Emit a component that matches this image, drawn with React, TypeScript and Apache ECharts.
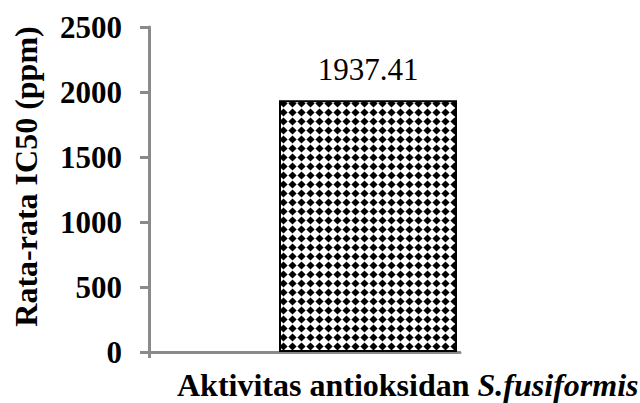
import React, { useEffect, useRef } from "react";
import * as echarts from "echarts";

const categories = ["S.fusiformis"];
const ic50Values = [1937.41];
const yMin = 0;
const yMax = 2500;
const yInterval = 500;

function makePattern(): HTMLCanvasElement {
  const c = document.createElement("canvas");
  const s = 9;
  c.width = s;
  c.height = s;
  const ctx = c.getContext("2d")!;
  ctx.fillStyle = "#ffffff";
  ctx.fillRect(0, 0, s, s);
  ctx.fillStyle = "#000000";
  ctx.beginPath();
  ctx.moveTo(s / 2, 0.4);
  ctx.lineTo(s - 0.4, s / 2);
  ctx.lineTo(s / 2, s - 0.4);
  ctx.lineTo(0.4, s / 2);
  ctx.closePath();
  ctx.fill();
  return c;
}

export default function App() {
  const ref = useRef<HTMLDivElement>(null);
  useEffect(() => {
    if (!ref.current) return;
    const chart = echarts.init(ref.current, undefined, { renderer: "svg" });
    const serif = "'Liberation Serif', 'Times New Roman', serif";
    const axisGray = "#8a8a8a";
    chart.setOption({
      animation: false,
      backgroundColor: "#ffffff",
      title: {
        text: "{b|Aktivitas antioksidan }{i|S.fusiformis}",
        left: 177,
        top: 369,
        padding: 0,
        textStyle: {
          rich: {
            b: { fontFamily: serif, fontWeight: "bold", fontSize: 32, color: "#000" },
            i: { fontFamily: serif, fontWeight: "bold", fontStyle: "italic", fontSize: 32, color: "#000" },
          },
        },
      },
      grid: [
        { left: 149, right: 180, top: 27, bottom: 51 },
        { left: 279, right: 183, top: 27, bottom: 51 },
      ],
      xAxis: [
        {
          type: "value",
          gridIndex: 0,
          min: 0,
          max: 10,
          interval: 10,
          axisLine: { show: true, lineStyle: { color: axisGray, width: 3 } },
          axisTick: { show: true, length: 6, customValues: [0], lineStyle: { color: axisGray, width: 3 } },
          axisLabel: { show: false },
          splitLine: { show: false },
        },
        {
          type: "category",
          gridIndex: 1,
          data: categories,
          show: false,
        },
      ],
      yAxis: [
        {
          type: "value",
          gridIndex: 0,
          min: yMin,
          max: yMax,
          interval: yInterval,
          name: "Rata-rata IC50 (ppm)",
          nameLocation: "middle",
          nameGap: 107,
          nameTextStyle: {
            fontFamily: serif,
            fontWeight: "bold",
            fontSize: 32,
            color: "#000",
            padding: [0, 0, 0, 26],
          },
          axisLine: { show: true, lineStyle: { color: axisGray, width: 3 } },
          axisTick: { show: true, length: 9, lineStyle: { color: axisGray, width: 3 } },
          splitLine: { show: false },
          axisLabel: {
            margin: 27,
            fontFamily: serif,
            fontWeight: "bold",
            fontSize: 31,
            color: "#000",
            formatter: (v: number) => String(v),
          },
        },
        {
          type: "value",
          gridIndex: 1,
          min: yMin,
          max: yMax,
          show: false,
          splitLine: { show: false },
        },
      ],
      series: [
        {
          type: "bar",
          xAxisIndex: 1,
          yAxisIndex: 1,
          data: ic50Values,
          barWidth: "100%",
          itemStyle: {
            color: { image: makePattern(), repeat: "repeat" },
            borderColor: "#000",
            borderWidth: 2,
          },
          label: {
            show: true,
            position: "top",
            distance: 15,
            fontFamily: serif,
            fontSize: 31,
            color: "#000",
          },
        },
      ],
    });
    return () => chart.dispose();
  }, []);
  return (
    <div
      ref={ref}
      style={{ position: "fixed", left: 0, top: 0, width: 640, height: 403 }}
    />
  );
}
